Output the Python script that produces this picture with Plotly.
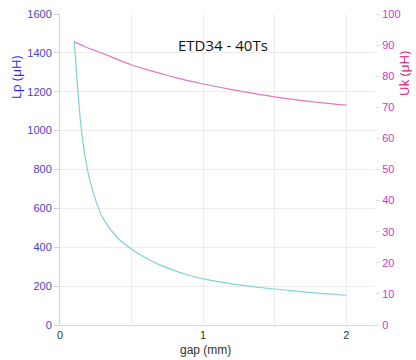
import plotly.graph_objects as go

gap = [0.1, 0.15, 0.2, 0.25, 0.3, 0.4, 0.5, 0.6, 0.7, 0.8, 0.9, 1.0, 1.2, 1.4, 1.6, 1.8, 2.0]
lp = [1460, 1000, 770, 640, 550, 450, 390, 345, 308, 280, 256, 237, 212, 193, 178, 164, 153]
uk = [91.0, 90.0, 89.0, 88.2, 87.3, 85.4, 83.6, 82.2, 80.9, 79.6, 78.5, 77.5, 75.7, 74.1, 72.7, 71.6, 70.7]

x_tickvals = [0, 0.5, 1, 1.5, 2]
x_ticktext = ["0", "", "1", "", "2"]

fig = go.Figure()
fig.add_trace(go.Scatter(x=gap, y=lp, mode="lines",
                         line=dict(color="#7fd3d3", width=1.2, shape="spline", smoothing=0.8),
                         yaxis="y", showlegend=False))
fig.add_trace(go.Scatter(x=gap, y=uk, mode="lines",
                         line=dict(color="#e07ab8", width=1.2, shape="spline", smoothing=0.8),
                         yaxis="y2", showlegend=False))

grid = "#ececec"
FW, FH = 416, 360
pl, pr, pt, pb = 60, 375, 14, 325
W, H = pr - pl, pb - pt


def px(x, y):
    return (x - pl) / W, (pb - y) / H


ann_specs = [
    ("ETD34 - 40Ts", 223, 45, 0, dict(family="Open Sans, sans-serif", size=15, color="#111111")),
    ("Lp (μH)", 16, 77, -90, dict(family="Open Sans, sans-serif", size=13, color="#2a2ae6")),
    ("Uk (μH)", 404, 73, -90, dict(family="Open Sans, sans-serif", size=13, color="#e0157a")),
    ("gap (mm)", 205, 350, 0, dict(family="Liberation Sans, Arial, sans-serif", size=12, color="#333333")),
]
anns = []
for text, x, y, ang, font in ann_specs:
    ax, ay = px(x, y)
    anns.append(dict(text=text, x=ax, y=ay, xref="paper", yref="paper", showarrow=False,
                     textangle=ang, font=font, xanchor="center", yanchor="middle"))

fig.update_layout(
    width=FW, height=FH,
    margin=dict(l=pl, r=FW - pr, t=pt, b=FH - pb, autoexpand=False),
    paper_bgcolor="white", plot_bgcolor="white",
    font=dict(family="Liberation Sans, Arial, sans-serif", size=11),
    xaxis=dict(range=[0, 2.2], tickvals=x_tickvals, ticktext=x_ticktext,
               showgrid=True, gridcolor=grid, zeroline=False,
               showline=True, linecolor="#d8d8d8", ticks="",
               tickfont=dict(color="#333333", size=11)),
    yaxis=dict(range=[0, 1600], dtick=200, showgrid=True, gridcolor=grid, zeroline=False,
               showline=True, linecolor="#d8d8d8", ticks="outside", ticklen=5, tickcolor="#d0d0d0",
               tickfont=dict(color="#4a3fc4", size=11)),
    yaxis2=dict(range=[0, 100], dtick=10, overlaying="y", side="right", showgrid=False,
                zeroline=False, showline=False, ticks="outside", ticklen=4, tickcolor="#e0e0e0",
                tickfont=dict(color="#d437c4", size=11)),
    annotations=anns,
)

fig.write_html("out.html", config={"displayModeBar": False},
               post_script="document.body.style.margin='0px';document.body.style.overflow='hidden';")
